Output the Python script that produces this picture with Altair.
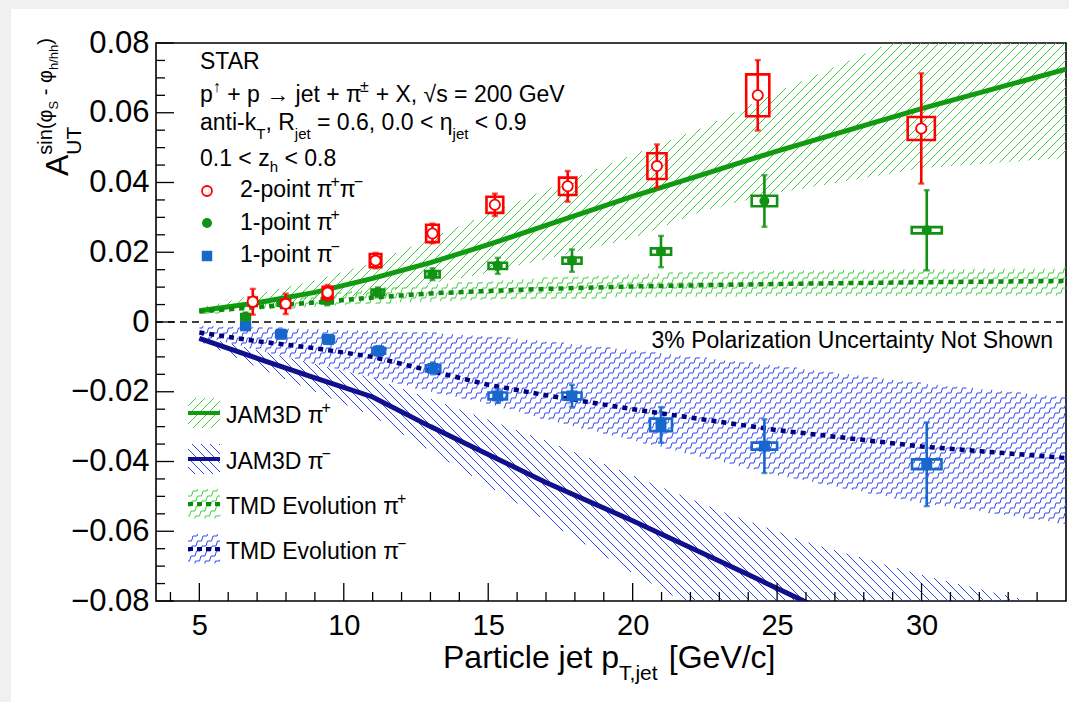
import numpy as np
import pandas as pd
import altair as alt

# ---------------- measured data (read from the figure) ----------------
# 2-point pi+pi- (red open circles)
red_x = [6.85, 7.99, 9.44, 11.10, 13.07, 15.23, 17.75, 20.84, 24.33, 29.99]
red_y = [0.0058, 0.0052, 0.0084, 0.0176, 0.0254, 0.0336, 0.0389, 0.0447, 0.0650, 0.0555]
red_stat = [0.0037, 0.0029, 0.0022, 0.0022, 0.0028, 0.0032, 0.0044, 0.0062, 0.0101, 0.0158]
red_sys_x = [0.14, 0.15, 0.17, 0.20, 0.22, 0.29, 0.30, 0.33, 0.40, 0.47]
red_sys_y = [0.0012, 0.0012, 0.0017, 0.0019, 0.0025, 0.0023, 0.0025, 0.0037, 0.0060, 0.0033]

# 1-point pi+ (green filled circles)
grn_x = [6.60, 7.88, 9.43, 11.18, 13.07, 15.33, 17.90, 20.98, 24.56, 30.18]
grn_y = [0.0015, 0.0055, 0.0061, 0.0085, 0.0137, 0.0161, 0.0176, 0.0202, 0.0347, 0.0263]
grn_stat = [0.0012, 0.0012, 0.0013, 0.0014, 0.0017, 0.0023, 0.0032, 0.0045, 0.0074, 0.0115]
grn_sys_x = [0.15, 0.17, 0.19, 0.22, 0.25, 0.32, 0.33, 0.35, 0.44, 0.52]
grn_sys_y = [0.0008, 0.0008, 0.0008, 0.0008, 0.0009, 0.0009, 0.0009, 0.0009, 0.0015, 0.0009]

# 1-point pi- (blue squares)
blu_x = [6.60, 7.83, 9.47, 11.21, 13.09, 15.33, 17.90, 20.98, 24.56, 30.18]
blu_y = [-0.0011, -0.0035, -0.0050, -0.0083, -0.0133, -0.0212, -0.0212, -0.0295, -0.0356, -0.0408]
blu_stat = [0.0012, 0.0012, 0.0013, 0.0014, 0.0017, 0.0020, 0.0032, 0.0051, 0.0077, 0.0120]
blu_sys_x = [0.15, 0.17, 0.19, 0.22, 0.25, 0.32, 0.33, 0.38, 0.44, 0.51]
blu_sys_y = [0.0008, 0.0008, 0.0008, 0.0008, 0.0009, 0.0010, 0.0010, 0.0018, 0.0010, 0.0014]

# JAM3D pi+ (green solid line + /// band)
jpp_x = [5, 7, 9, 11, 13, 15, 17, 20, 22.5, 25, 30, 35]
jpp_y = [0.0032, 0.0055, 0.0085, 0.0125, 0.0170, 0.0222, 0.0277, 0.0360, 0.0425, 0.0490, 0.0612, 0.0725]
jpp_lo = [0.0025, 0.0040, 0.0060, 0.0080, 0.0110, 0.0140, 0.0180, 0.0240, 0.0320, 0.0370, 0.0440, 0.0470]
jpp_hi = [0.0040, 0.0080, 0.0120, 0.0170, 0.0240, 0.0310, 0.0380, 0.0480, 0.0560, 0.0660, 0.0840, 0.0980]

# JAM3D pi- (navy solid line + \\\ band)
jpm_x = [5, 7, 9, 11, 13, 15, 17, 20, 23, 26, 30, 35]
jpm_y = [-0.0047, -0.0104, -0.0160, -0.0215, -0.0300, -0.0380, -0.0460, -0.0570, -0.0685, -0.0803, -0.0950, -0.1130]
jpm_hi = [-0.0040, -0.0080, -0.0120, -0.0160, -0.0220, -0.0280, -0.0340, -0.0440, -0.0540, -0.0630, -0.0725, -0.0825]
jpm_lo = [-0.0055, -0.0130, -0.0200, -0.0270, -0.0370, -0.0470, -0.0570, -0.0720, -0.0860, -0.0990, -0.1150, -0.1350]

# TMD evolution pi+ (green dotted line + zigzag band)
tpp_x = [5, 7, 9, 11, 13, 15, 17, 20, 25, 30, 35]
tpp_y = [0.0030, 0.0043, 0.0056, 0.0070, 0.0082, 0.0089, 0.0095, 0.0102, 0.0109, 0.0114, 0.0118]
tpp_lo = [0.0022, 0.0033, 0.0043, 0.0052, 0.0058, 0.0063, 0.0066, 0.0070, 0.0073, 0.0074, 0.0075]
tpp_hi = [0.0038, 0.0057, 0.0078, 0.0095, 0.0108, 0.0118, 0.0127, 0.0138, 0.0148, 0.0152, 0.0155]

# TMD evolution pi- (navy dotted line + zigzag band)
tpm_x = [5, 7, 9, 11, 13, 15, 17, 20, 25, 30, 35]
tpm_y = [-0.0030, -0.0055, -0.0075, -0.0100, -0.0140, -0.0180, -0.0210, -0.0250, -0.0310, -0.0357, -0.0390]
tpm_hi = [-0.0010, -0.0015, -0.0020, -0.0025, -0.0030, -0.0040, -0.0055, -0.0080, -0.0125, -0.0175, -0.0215]
tpm_lo = [-0.0040, -0.0080, -0.0120, -0.0160, -0.0200, -0.0235, -0.0280, -0.0340, -0.0440, -0.0520, -0.0580]

# axis tick labels
x_tick_labels = [5, 10, 15, 20, 25, 30]
x_minor = [4, 6, 7, 8, 9, 11, 12, 13, 14, 16, 17, 18, 19, 21, 22, 23, 24, 26, 27, 28, 29, 31, 32, 33, 34]
y_tick_labels = [-0.08, -0.06, -0.04, -0.02, 0.0, 0.02, 0.04, 0.06, 0.08]
y_minor = [-0.075, -0.07, -0.065, -0.055, -0.05, -0.045, -0.035, -0.03, -0.025, -0.015, -0.01, -0.005,
           0.005, 0.01, 0.015, 0.025, 0.03, 0.035, 0.045, 0.05, 0.055, 0.065, 0.07, 0.075]

# ---------------- layout ----------------
PW, PH = 910, 558
OX, OY = 156, 43
XMIN, XMAX = 3.5, 35.0
YMIN, YMAX = -0.08, 0.08
FONT = "Liberation Sans"

RED = "#ff0000"
GREEN_PT = "#129212"
BLUE_PT = "#1767cc"
GREEN_LINE = "#109a10"
GREEN_TMD = "#0c8a0c"
NAVY = "#10108c"
NAVY_TMD = "#000080"
GREEN_HATCH = "#3fcf3f"
BLUE_HATCH = "#3347f0"

xs = alt.Scale(domain=[XMIN, XMAX], nice=False, zero=False)
ys = alt.Scale(domain=[YMIN, YMAX], nice=False, zero=False)
xax = alt.Axis(values=x_tick_labels, ticks=False, tickSize=0, domain=False, grid=False,
               labelFontSize=29, labelFont=FONT, labelColor="black", labelPadding=10,
               title=None, labelFlush=False, labelOverlap=False, zindex=2)
yax = alt.Axis(values=y_tick_labels, ticks=False, tickSize=0, domain=False, grid=False,
               labelFontSize=31, labelFont=FONT, labelColor="black", labelPadding=7,
               title=None, labelFlush=False, labelOverlap=False, zindex=2,
               labelExpr="datum.value == 0 ? '0' : format(datum.value, '.2f')")


def X(f):
    return alt.X(f, type="quantitative", scale=xs, axis=xax)


def Y(f):
    return alt.Y(f, type="quantitative", scale=ys, axis=yax)


def data_x(sx):
    return XMIN + np.asarray(sx, dtype=float) / PW * (XMAX - XMIN)


def data_y(sy):
    return YMAX - np.asarray(sy, dtype=float) / PH * (YMAX - YMIN)


def band_inside(bx, blo, bhi):
    def f(sx, sy):
        sx = np.asarray(sx, dtype=float)
        sy = np.asarray(sy, dtype=float)
        shp = sx.shape
        xd = data_x(sx.ravel())
        yd = data_y(sy.ravel())
        lo = np.interp(xd, bx, blo)
        hi = np.interp(xd, bx, bhi)
        m = (xd >= bx[0]) & (xd <= bx[-1]) & (yd >= lo) & (yd <= hi)
        return m.reshape(shp)
    return f


def runs(mask):
    idx = np.flatnonzero(mask)
    if idx.size == 0:
        return []
    br = np.flatnonzero(np.diff(idx) > 1)
    starts = np.r_[idx[0], idx[br + 1]]
    ends = np.r_[idx[br], idx[-1]]
    return list(zip(starts, ends))


def diag_segments(inside, box, sign, spacing):
    x0, x1, y0, y1 = box
    sx = np.arange(x0, x1 + 0.001, 0.5)
    if sign > 0:
        cmin, cmax = x0 + y0, x1 + y1
    else:
        cmin, cmax = x0 - y1, x1 - y0
    cs = np.arange(np.floor(cmin / spacing) * spacing, cmax + spacing, spacing)
    segs = []
    for c in cs:
        sy = c - sx if sign > 0 else sx - c
        m = inside(sx, sy) & (sy >= y0) & (sy <= y1)
        for s, e in runs(m):
            if e > s:
                segs.append((sx[s], sy[s], sx[e], sy[e]))
    return segs


def clip_segments(P0, P1, inside, box):
    x0, x1, y0, y1 = box
    t = np.linspace(0, 1, 9)
    pts = P0[:, None, :] + (P1 - P0)[:, None, :] * t[None, :, None]
    px, py = pts[..., 0], pts[..., 1]
    m = inside(px, py) & (px >= x0) & (px <= x1) & (py >= y0) & (py <= y1)
    anym = m.any(axis=1)
    first = np.argmax(m, axis=1)
    last = m.shape[1] - 1 - np.argmax(m[:, ::-1], axis=1)
    segs = []
    for i in np.flatnonzero(anym):
        if last[i] > first[i]:
            a, b = pts[i, first[i]], pts[i, last[i]]
            segs.append((a[0], a[1], b[0], b[1]))
    return segs


def stair_segments(inside, box, spacing=10.0, run=4.0, step=5.5, rise=5.0):
    # staircase lines climbing to the right: horizontal tread then slanted riser
    x0, x1, y0, y1 = box
    nsteps = int(np.ceil((y1 - y0) / rise)) + 2
    span = nsteps * step
    cs = np.arange(np.floor((x0 - span) / spacing) * spacing, x1 + spacing, spacing)
    j = np.arange(nsteps)
    C, J = np.meshgrid(cs, j, indexing="ij")
    C = C.ravel()
    J = J.ravel()
    bx = C + J * step
    by = y1 + 2 - J * rise
    t0 = np.stack([bx, by], axis=1)
    t1 = np.stack([bx + run, by], axis=1)
    r1 = np.stack([bx + step, by - rise], axis=1)
    keep = (bx + step >= x0 - 1) & (bx <= x1 + 1)
    P0 = np.concatenate([t0[keep], t1[keep]])
    P1 = np.concatenate([t1[keep], r1[keep]])
    return clip_segments(P0, P1, inside, box)


def to_data_df(segs):
    a = np.array(segs) if segs else np.zeros((0, 4))
    return pd.DataFrame({"x": data_x(a[:, 0]), "y": data_y(a[:, 1]),
                         "x2": data_x(a[:, 2]), "y2": data_y(a[:, 3])})


def to_pix_df(segs):
    a = np.array(segs) if segs else np.zeros((0, 4))
    return pd.DataFrame({"x": a[:, 0] - OX, "y": a[:, 1] - OY, "x2": a[:, 2] - OX, "y2": a[:, 3] - OY})


FULL = (0.0, float(PW), 0.0, float(PH))


def hatch_layer(df, color, width=1.0):
    return alt.Chart(df).mark_rule(color=color, strokeWidth=width, clip=True).encode(
        x=X("x"), y=Y("y"), x2="x2", y2="y2")


def pix_rule_layer(df, color, width=1.0, dash=None):
    kw = dict(color=color, strokeWidth=width)
    if dash:
        kw["strokeDash"] = dash
    return alt.Chart(df).mark_rule(**kw).encode(
        x=alt.X("x:Q", scale=None, axis=None), y=alt.Y("y:Q", scale=None, axis=None),
        x2="x2:Q", y2="y2:Q")


layers = []

# grey strips of the page at the top and left edges
layers.append(alt.Chart(pd.DataFrame({"a": [0]})).mark_rect(color="#f0f0f0").encode(
    x=alt.value(0 - OX), x2=alt.value(1069 - OX), y=alt.value(0 - OY), y2=alt.value(9 - OY)))
layers.append(alt.Chart(pd.DataFrame({"a": [0]})).mark_rect(color="#f0f0f0").encode(
    x=alt.value(0 - OX), x2=alt.value(11 - OX), y=alt.value(0 - OY), y2=alt.value(702 - OY)))

# ---------- theory bands ----------
layers.append(hatch_layer(to_data_df(stair_segments(band_inside(tpm_x, tpm_lo, tpm_hi), FULL)), BLUE_HATCH, 1.0))
layers.append(hatch_layer(to_data_df(stair_segments(band_inside(tpp_x, tpp_lo, tpp_hi), FULL)), GREEN_HATCH, 1.0))
layers.append(hatch_layer(to_data_df(diag_segments(band_inside(jpm_x, jpm_lo, jpm_hi), FULL, -1, 9.0)), BLUE_HATCH))
layers.append(hatch_layer(to_data_df(diag_segments(band_inside(jpp_x, jpp_lo, jpp_hi), FULL, 1, 9.0)), GREEN_HATCH))

# ---------- theory lines ----------
def line_layer(xv, yv, color, width, dash=None):
    df = pd.DataFrame({"x": xv, "y": yv})
    kw = dict(color=color, strokeWidth=width, clip=True)
    if dash:
        kw["strokeDash"] = dash
    return alt.Chart(df).mark_line(**kw).encode(x=X("x"), y=Y("y"))

layers.append(line_layer(jpp_x, jpp_y, GREEN_LINE, 5))
layers.append(line_layer(jpm_x, jpm_y, NAVY, 5))
layers.append(line_layer(tpp_x, tpp_y, GREEN_TMD, 4.5, [5, 5]))
layers.append(line_layer(tpm_x, tpm_y, NAVY_TMD, 4.5, [5, 5]))

# zero line
layers.append(alt.Chart(pd.DataFrame({"y": [0.0]})).mark_rule(
    color="black", strokeWidth=1.3, strokeDash=[7, 5]).encode(
    y=Y("y"), x=alt.value(0), x2=alt.value(PW)))

# ---------- inward ticks ----------
layers.append(alt.Chart(pd.DataFrame({"v": x_tick_labels})).mark_rule(color="black", strokeWidth=1.3).encode(
    x=X("v"), y=alt.value(PH), y2=alt.value(PH - 18)))
layers.append(alt.Chart(pd.DataFrame({"v": x_minor})).mark_rule(color="black", strokeWidth=1.3).encode(
    x=X("v"), y=alt.value(PH), y2=alt.value(PH - 9)))
layers.append(alt.Chart(pd.DataFrame({"v": y_tick_labels})).mark_rule(color="black", strokeWidth=1.3).encode(
    y=Y("v"), x=alt.value(0), x2=alt.value(18)))
layers.append(alt.Chart(pd.DataFrame({"v": y_minor})).mark_rule(color="black", strokeWidth=1.3).encode(
    y=Y("v"), x=alt.value(0), x2=alt.value(9)))

# ---------- data points ----------
def points_layers(xv, yv, stat, sx, sy, color, marker):
    df = pd.DataFrame({"x": xv, "y": yv})
    df["lo"] = df["y"] - np.array(stat)
    df["hi"] = df["y"] + np.array(stat)
    df["bx0"] = df["x"] - np.array(sx)
    df["bx1"] = df["x"] + np.array(sx)
    df["by0"] = df["y"] - np.array(sy)
    df["by1"] = df["y"] + np.array(sy)
    base = alt.Chart(df)
    out = [
        base.mark_rule(color=color, strokeWidth=2.6).encode(x=X("x"), y=Y("lo"), y2="hi"),
        base.mark_tick(color=color, orient="horizontal", size=6, thickness=2.4).encode(x=X("x"), y=Y("lo")),
        base.mark_tick(color=color, orient="horizontal", size=6, thickness=2.4).encode(x=X("x"), y=Y("hi")),
        base.mark_rect(fillOpacity=0, stroke=color, strokeWidth=2.6, fill="white").encode(
            x=X("bx0"), x2="bx1", y=Y("by0"), y2="by1"),
    ]
    if marker == "open":
        out.append(base.mark_point(shape="circle", filled=True, fill="white", stroke=color,
                                   strokeWidth=1.8, size=105, opacity=1).encode(x=X("x"), y=Y("y")))
    elif marker == "circle":
        out.append(base.mark_circle(color=color, size=100, opacity=1).encode(x=X("x"), y=Y("y")))
    else:
        out.append(base.mark_square(color=color, size=120, opacity=1).encode(x=X("x"), y=Y("y")))
    return out

layers += points_layers(blu_x, blu_y, blu_stat, blu_sys_x, blu_sys_y, BLUE_PT, "square")
layers += points_layers(grn_x, grn_y, grn_stat, grn_sys_x, grn_sys_y, GREEN_PT, "circle")
layers += points_layers(red_x, red_y, red_stat, red_sys_x, red_sys_y, RED, "open")

# ---------- texts ----------
MINUS = "\u2212"
CW = {' ': 278, '!': 278, '%': 889, '(': 333, ')': 333, '+': 584, ',': 278, '-': 333, '.': 278,
      '/': 278, '<': 584, '=': 584, '>': 584, 'A': 667, 'B': 667, 'C': 722, 'D': 722, 'E': 667,
      'G': 778, 'J': 500, 'M': 833, 'N': 722, 'P': 667, 'R': 722, 'S': 667, 'T': 611, 'U': 722,
      'V': 667, 'X': 667, '[': 278, ']': 278, 'a': 556, 'c': 500, 'e': 556, 'h': 556, 'i': 222,
      'j': 222, 'k': 500, 'l': 222, 'n': 556, 'o': 556, 'p': 556, 'r': 333, 's': 500, 't': 278,
      'u': 556, 'v': 500, 'w': 722, 'y': 500, 'z': 500, '\u03c0': 600, '\u03b7': 556,
      '\u03c6': 650, '\u00b1': 584, '\u2192': 1000, '\u2191': 500, '\u221a': 549, MINUS: 584}
for d in "0123456789":
    CW[d] = 556


def tw(s, size):
    return sum(CW.get(ch, 556) for ch in s) * size / 1000.0


def rich(x0, y0, pieces, size, color="black", subdrop=0.38):
    """Place text pieces one after the other; leading spaces become an x shift
    (SVG drops leading whitespace)."""
    rows = []
    x = x0
    for text, kind in pieces:
        if kind == "n":
            s, dy = size, 0.0
        elif kind == "sup":
            s, dy = round(size * 0.68), -size * 0.42
        else:
            s, dy = round(size * 0.65), size * subdrop
        stripped = text.lstrip(" ")
        lead = tw(text[:len(text) - len(stripped)], s)
        rows.append(dict(x=x + lead - OX, y=y0 + dy - OY, t=stripped, s=s, c=color))
        x += tw(text, s)
    return rows


def text_layer(rows, **mk):
    df = pd.DataFrame(rows)
    return alt.Chart(df).mark_text(font=FONT, align="left", baseline="alphabetic", **mk).encode(
        x=alt.X("x:Q", scale=None, axis=None), y=alt.Y("y:Q", scale=None, axis=None),
        text="t:N", size=alt.Size("s:Q", scale=None, legend=None),
        color=alt.Color("c:N", scale=None, legend=None))


TS = 23
rows = []
rows += rich(200, 69, [("STAR", "n")], TS)
rows += rich(200, 101.5, [("p", "n"), ("\u2191", "sup"), (" + p \u2192 jet + \u03c0", "n"), ("\u00b1", "sup"),
                          (" + X, \u221as = 200 GeV", "n")], TS)
rows += rich(200, 130, [("anti-k", "n"), ("T", "sub"), (", R", "n"), ("jet", "sub"),
                        (" = 0.6, 0.0 < \u03b7", "n"), ("jet", "sub"), (" < 0.9", "n")], TS)
rows += rich(200, 165.5, [("0.1 < z", "n"), ("h", "sub"), (" < 0.8", "n")], TS, subdrop=0.3)
rows += rich(240, 197, [("2-point \u03c0", "n"), ("+", "sup"), ("\u03c0", "n"), (MINUS, "sup")], TS)
rows += rich(240, 230, [("1-point \u03c0", "n"), ("+", "sup")], TS)
rows += rich(240, 262, [("1-point \u03c0", "n"), (MINUS, "sup")], TS)
leg_c = [413, 459, 504, 549]
rows += rich(226, leg_c[0] + 10, [("JAM3D \u03c0", "n"), ("+", "sup")], TS)
rows += rich(226, leg_c[1] + 10, [("JAM3D \u03c0", "n"), (MINUS, "sup")], TS)
rows += rich(226, leg_c[2] + 10, [("TMD Evolution \u03c0", "n"), ("+", "sup")], TS)
rows += rich(226, leg_c[3] + 10, [("TMD Evolution \u03c0", "n"), (MINUS, "sup")], TS)
# x-axis title
rows += rich(443, 668, [("Particle jet p", "n"), ("T,jet", "sub"), (" [GeV/c]", "n")], 32)
layers.append(text_layer(rows))

# polarization note (right aligned)
layers.append(alt.Chart(pd.DataFrame({"t": ["3% Polarization Uncertainty Not Shown"]})).mark_text(
    font=FONT, fontSize=TS, align="right", baseline="alphabetic", color="black").encode(
    text="t:N", x=alt.value(1053 - OX), y=alt.value(348 - OY)))

# rotated y-axis title  A_UT^{sin(phi_S - phi_h/hh)}
yrows = []
ya = 176.0
yrows.append(dict(x=68 - OX, y=ya - OY, t="A", s=32, c="black"))
ys0 = ya - tw("A", 32)
yrows.append(dict(x=81 - OX, y=ys0 - OY, t="UT", s=21, c="black"))
yy = ys0
for text, kind in [("sin(\u03c6", "n"), ("S", "sub"), (" - \u03c6", "n"), ("h/hh", "sub"), (")", "n")]:
    if kind == "n":
        s, xb = 20, 52
    else:
        s, xb = 13, 58
    stripped = text.lstrip(" ")
    lead = tw(text[:len(text) - len(stripped)], s)
    yrows.append(dict(x=xb - OX, y=yy - lead - OY, t=stripped, s=s, c="black"))
    yy -= tw(text, s)
layers.append(text_layer(yrows, angle=270))

# ---------- legend symbols ----------
layers.append(alt.Chart(pd.DataFrame({"a": [0]})).mark_point(
    shape="circle", filled=True, fill="white", stroke=RED, strokeWidth=1.8, size=100, opacity=1).encode(
    x=alt.value(207 - OX), y=alt.value(191 - OY)))
layers.append(alt.Chart(pd.DataFrame({"a": [0]})).mark_circle(color=GREEN_PT, size=100, opacity=1).encode(
    x=alt.value(207 - OX), y=alt.value(223 - OY)))
layers.append(alt.Chart(pd.DataFrame({"a": [0]})).mark_square(color=BLUE_PT, size=110, opacity=1).encode(
    x=alt.value(207 - OX), y=alt.value(256 - OY)))

for i, c in enumerate(leg_c):
    box = (188.0, 220.0, c - 15.0, c + 15.0)
    inside = lambda sx, sy: np.ones(np.shape(sx), dtype=bool)
    if i == 0:
        layers.append(pix_rule_layer(to_pix_df(diag_segments(inside, box, 1, 9.0)), GREEN_HATCH))
    elif i == 1:
        layers.append(pix_rule_layer(to_pix_df(diag_segments(inside, box, -1, 9.0)), BLUE_HATCH))
    elif i == 2:
        layers.append(pix_rule_layer(to_pix_df(stair_segments(inside, box)), GREEN_HATCH))
    else:
        layers.append(pix_rule_layer(to_pix_df(stair_segments(inside, box)), BLUE_HATCH))

sw_lines = pd.DataFrame({"x": [188 - OX] * 4, "x2": [220 - OX] * 4, "y": [c - OY for c in leg_c],
                         "y2": [c - OY for c in leg_c], "k": ["a", "b", "c", "d"]})
layers.append(pix_rule_layer(sw_lines[sw_lines.k == "a"], GREEN_LINE, 4))
layers.append(pix_rule_layer(sw_lines[sw_lines.k == "b"], NAVY, 4))
layers.append(pix_rule_layer(sw_lines[sw_lines.k == "c"], GREEN_TMD, 4, [5, 4]))
layers.append(pix_rule_layer(sw_lines[sw_lines.k == "d"], NAVY_TMD, 4, [5, 4]))

chart = alt.layer(*layers).properties(
    width=PW, height=PH,
    autosize=alt.AutoSizeParams(type="none"),
    padding={"left": OX, "top": OY, "right": 1069 - OX - PW, "bottom": 702 - OY - PH},
    background="white",
).configure_view(stroke="black", strokeWidth=1.6)

chart.save("out.html", embed_options={"renderer": "svg", "actions": False})
